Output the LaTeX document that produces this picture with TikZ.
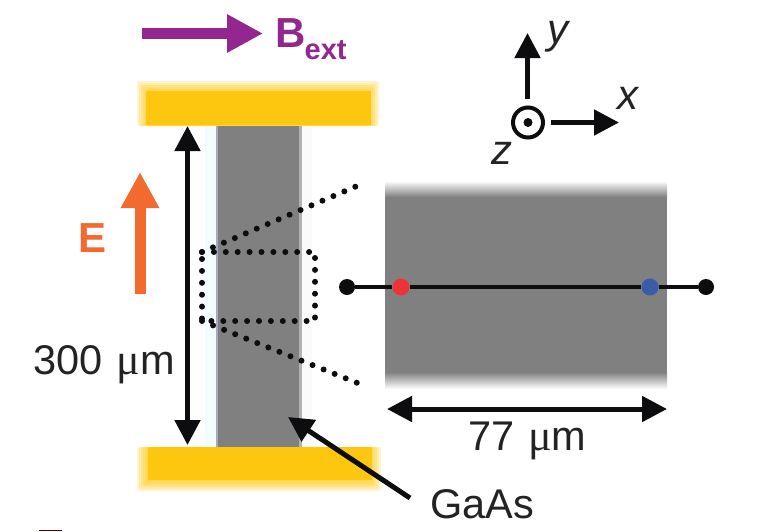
\documentclass[tikz,border=0pt]{standalone}
\usepackage{fontspec}
\setmainfont{Liberation Sans}
\newfontfamily\muserif{Liberation Serif}
\usetikzlibrary{arrows.meta}
\definecolor{gaas}{HTML}{808080}
\definecolor{gold}{HTML}{FDC70F}
\definecolor{bpurple}{HTML}{93278F}
\definecolor{eorange}{HTML}{F26A2E}
\definecolor{ink}{HTML}{0D0D0F}
\definecolor{txt}{HTML}{232323}
\definecolor{mred}{HTML}{EE3338}
\definecolor{mblue}{HTML}{3A5CA8}
\tikzset{
  goldblur/.style={fill=gold,opacity=0.2,draw=none,rounded corners=2pt},
  goldcore/.style={fill=gold,draw=none},
  blackarrow/.style={draw=ink,line width=5pt,-{Triangle[length=25pt,width=25pt]}},
  blackboth/.style={draw=ink,line width=5pt,{Triangle[length=25pt,width=25pt]}-{Triangle[length=25pt,width=25pt]}},
  fatarrow/.style={line width=11pt,-{Triangle[length=36pt,width=36pt]}},
  dotline/.style={draw=ink,line width=6pt,line cap=round,dash pattern=on 0pt off 11.9pt},
  endpoint/.style={circle,fill=ink,draw=none,minimum size=16pt,inner sep=0pt},
  marker/.style={circle,draw=none,minimum size=17pt,inner sep=0pt},
  lab/.style={text=txt,inner sep=0pt,font=\fontsize{41.5}{41.5}\selectfont},
  axislab/.style={text=txt,inner sep=0pt,font=\fontsize{42}{42}\selectfont\itshape}
}
\newcommand{\um}{\hspace{14pt}{\muserif\fontsize{44}{44}\selectfont μ}m}
\begin{document}
\begin{tikzpicture}[x=1pt,y=-1pt]
\useasboundingbox (0,0) rectangle (759,531);
% contacts
\foreach \o in {0,1,2,3,4,5}{
  \fill[goldblur] (137+2*\o,81+2*\o) rectangle (379-2*\o,126);
  \fill[goldblur] (137+2*\o,447) rectangle (381-2*\o,491-2*\o);
}
\fill[goldcore] (146,91) rectangle (371,125);
\fill[goldcore] (148,447) rectangle (372,480);
% strip
\fill[blue!25!cyan!4] (205,127) rectangle (217,447);
\fill[gray!4] (302,127) rectangle (312,447);
\fill[gaas] (217,126) rectangle (302,447);
\fill[gray!60] (299,126) rectangle (302,447);
\fill[blue!25!gray!55] (216,126) rectangle (218,447);
% enlarged region
\fill[gaas] (385,197) rectangle (667,372);
\shade[top color=white,bottom color=gaas] (385,181) rectangle (667,197);
\shade[top color=gaas,bottom color=white] (385,372) rectangle (667,389);
% dotted zoom
\coordinate (za) at (202,252);
\coordinate (zb) at (315,252);
\coordinate (zc) at (315,321);
\coordinate (zd) at (202,321);
\coordinate (ze) at (357,186);
\coordinate (zf) at (360,384);
\draw[dotline] (za) -- (zb) -- (zc) -- (zd) -- cycle;
\draw[dotline] (za) -- (ze);
\draw[dotline] (zd) -- (zf);
% measuring line
\node[endpoint] (pl) at (347,287) {};
\node[endpoint] (pr) at (706,287) {};
\node[marker,fill=mred] (pa) at (401,287) {};
\node[marker,fill=mblue] (pb) at (650,287) {};
\draw[ink,line width=3.5pt] (pl) -- (pa);
\draw[ink,line width=4.5pt] (pa) -- (pb);
\draw[ink,line width=3.5pt] (pb) -- (pr);
% dimensions
\coordinate (vt) at (187.5,126);
\coordinate (vb) at (187.5,445);
\draw[blackboth] (vt) -- (vb);
\coordinate (hl) at (387,409);
\coordinate (hr) at (667,409);
\draw[blackboth] (hl) -- (hr);
\node[lab,anchor=base west] (l300) at (33,374) {300\um};
\node[lab,anchor=base west] (l77) at (468,450) {77\um};
% GaAs
\node[lab,anchor=base west] (lgaas) at (430,518) {GaAs};
\coordinate (gs) at (410,498);
\coordinate (ge) at (288,417);
\draw[blackarrow] (gs) -- (ge);
% field arrows
\coordinate (bs) at (142,33.5);
\coordinate (be) at (263,33.5);
\draw[fatarrow,bpurple] (bs) -- (be);
\node[anchor=base west,inner sep=0pt,text=bpurple,font=\fontsize{42}{42}\selectfont\bfseries] (lb) at (275.5,47) {B};
\node[anchor=base west,inner sep=0pt,text=bpurple,font=\fontsize{29}{29}\selectfont\bfseries] (lext) at (304.5,59) {ext};
\coordinate (es) at (140,294);
\coordinate (ee) at (140,172);
\draw[fatarrow,eorange] (es) -- (ee);
\node[anchor=base west,inner sep=0pt,text=eorange,font=\fontsize{42}{42}\selectfont\bfseries] (le) at (78,252) {E};
% axes
\node[circle,draw=ink,line width=4pt,minimum size=30pt,inner sep=0pt] (zc0) at (528,122.5) {};
\node[circle,fill=ink,minimum size=9pt,inner sep=0pt] (zdot) at (528,122.5) {};
\coordinate (ys) at (527.5,99);
\coordinate (ye) at (527.5,33);
\draw[blackarrow] (ys) -- (ye);
\coordinate (xs) at (551,122.5);
\coordinate (xe) at (619,122.5);
\draw[blackarrow] (xs) -- (xe);
\node[axislab,anchor=base west] (ly) at (547,43) {y};
\node[axislab,anchor=base west] (lx) at (617,109) {x};
\node[axislab,anchor=base west] (lz) at (491,164) {z};
% clipped fragment at bottom edge
\fill[black!70!red] (39,529.5) rectangle (62,531);
\end{tikzpicture}
\end{document}
